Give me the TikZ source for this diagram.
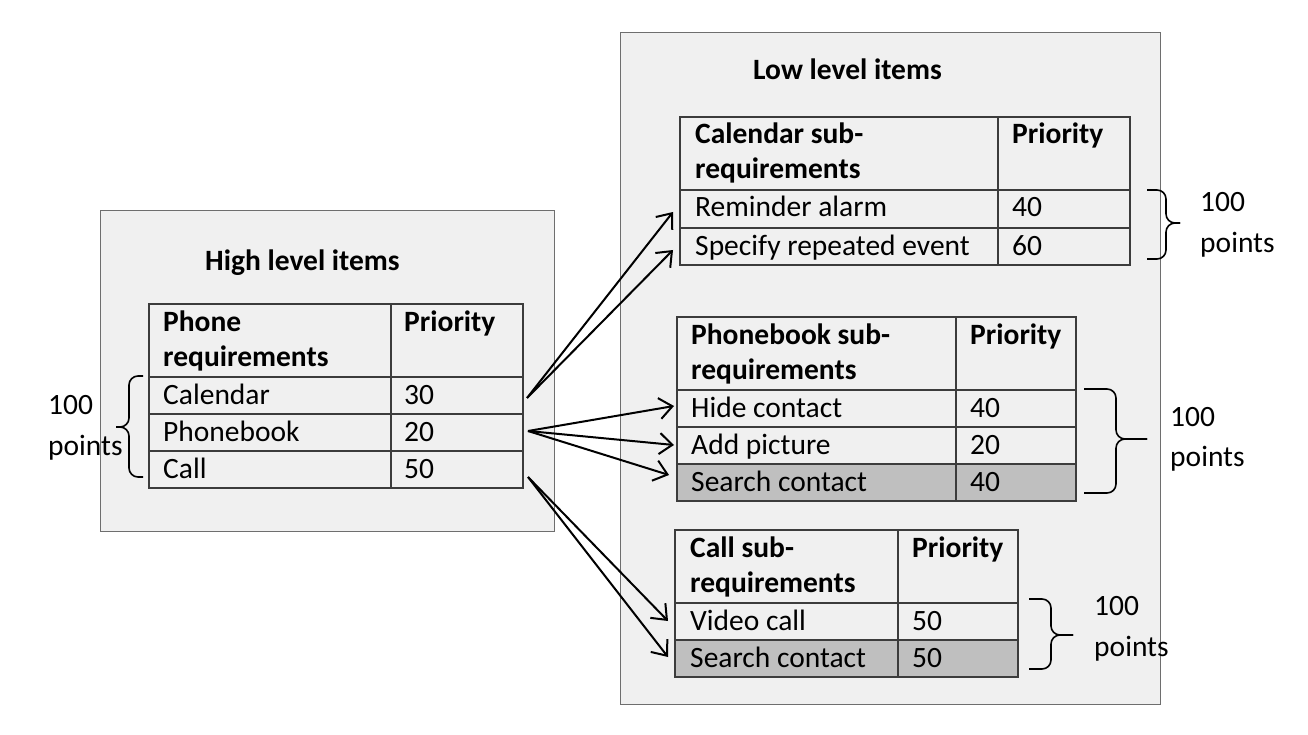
\documentclass[tikz,border=0pt]{standalone}
\usepackage{fontspec}
\setmainfont{Carlito}
\usetikzlibrary{arrows.meta}
\definecolor{bgc}{HTML}{F0F0F0}
\definecolor{tabc}{HTML}{3C3C3C}
\definecolor{outc}{HTML}{6E6E6E}
\definecolor{shc}{HTML}{BFBFBF}
\newcommand\fs{\fontsize{29.5}{35}\selectfont}
\newcommand\bracepath[6]{\draw[br] (#1,#4) -- (#2,#4) -- (#2,#5) -- (#3,#5); \draw[br] (#3,#5) -- (#2,#5) -- (#2,#6) -- (#1,#6);}
\tikzset{
  outerbox/.style={draw=outc, fill=bgc, line width=1.2pt, inner sep=0pt, anchor=north west},
  cell/.style={draw=tabc, fill=bgc, line width=1.6pt, inner sep=0pt, anchor=north west},
  shcell/.style={cell, fill=shc},
  txt/.style={inner sep=0pt, anchor=base west, font=\fs},
  hd/.style={txt, font=\fs\bfseries},
  arr/.style={line width=2pt, -{Straight Barb[length=13pt,width=21pt]}},
  br/.style={line width=1.6pt, rounded corners=9pt}
}
\begin{document}
\begin{tikzpicture}[x=1pt,y=-1pt]
\useasboundingbox (0,0) rectangle (1308,735);
% outer boxes
\node[outerbox, minimum width=454, minimum height=321] (hbox) at (100,210) {};
\node[outerbox, minimum width=540, minimum height=672] (lbox) at (620,32) {};
\node[hd] (htitle) at (205,270) {High level items};
\node[hd] (ltitle) at (753,80) {Low level items};
% left table
\node[cell, minimum width=242, minimum height=73] (Lh1) at (148,303) {};
\node[cell, minimum width=132, minimum height=73] (Lh2) at (390,303) {};
\node[cell, minimum width=242, minimum height=37] (Lr1a) at (148,376) {};
\node[cell, minimum width=132, minimum height=37] (Lr1b) at (390,376) {};
\node[cell, minimum width=242, minimum height=37] (Lr2a) at (148,413) {};
\node[cell, minimum width=132, minimum height=37] (Lr2b) at (390,413) {};
\node[cell, minimum width=242, minimum height=37] (Lr3a) at (148,450) {};
\node[cell, minimum width=132, minimum height=37] (Lr3b) at (390,450) {};
\node[hd] (Lt1) at (163,331) {Phone};
\node[hd] (Lt2) at (163,366) {requirements};
\node[hd] (Lt3) at (404,331) {Priority};
\node[txt] (Lt4) at (163,404) {Calendar};
\node[txt] (Lt5) at (404,404) {30};
\node[txt] (Lt6) at (163,441) {Phonebook};
\node[txt] (Lt7) at (404,441) {20};
\node[txt] (Lt8) at (163,478) {Call};
\node[txt] (Lt9) at (404,478) {50};
% calendar table
\node[cell, minimum width=318, minimum height=73] (Ch1) at (679,116) {};
\node[cell, minimum width=132, minimum height=73] (Ch2) at (997,116) {};
\node[cell, minimum width=318, minimum height=38] (Cr1a) at (679,189) {};
\node[cell, minimum width=132, minimum height=38] (Cr1b) at (997,189) {};
\node[cell, minimum width=318, minimum height=37] (Cr2a) at (679,227) {};
\node[cell, minimum width=132, minimum height=37] (Cr2b) at (997,227) {};
\node[hd] (Ct1) at (695,144) {Calendar sub-};
\node[hd] (Ct2) at (695,179) {requirements};
\node[hd] (Ct3) at (1012,144) {Priority};
\node[txt] (Ct4) at (695,217) {Reminder alarm};
\node[txt] (Ct5) at (1012,217) {40};
\node[txt] (Ct6) at (695,255) {Specify repeated event};
\node[txt] (Ct7) at (1012,255) {60};
% phonebook table
\node[cell, minimum width=279, minimum height=73] (Ph1) at (676,316) {};
\node[cell, minimum width=120, minimum height=73] (Ph2) at (955,316) {};
\node[cell, minimum width=279, minimum height=37] (Pr1a) at (676,389) {};
\node[cell, minimum width=120, minimum height=37] (Pr1b) at (955,389) {};
\node[cell, minimum width=279, minimum height=37] (Pr2a) at (676,426) {};
\node[cell, minimum width=120, minimum height=37] (Pr2b) at (955,426) {};
\node[shcell, minimum width=279, minimum height=37] (Pr3a) at (676,463) {};
\node[shcell, minimum width=120, minimum height=37] (Pr3b) at (955,463) {};
\node[hd] (Pt1) at (691,344) {Phonebook sub-};
\node[hd] (Pt2) at (691,379) {requirements};
\node[hd] (Pt3) at (970,344) {Priority};
\node[txt] (Pt4) at (691,417) {Hide contact};
\node[txt] (Pt5) at (970,417) {40};
\node[txt] (Pt6) at (691,454) {Add picture};
\node[txt] (Pt7) at (970,454) {20};
\node[txt] (Pt8) at (691,491) {Search contact};
\node[txt] (Pt9) at (970,491) {40};
% call table
\node[cell, minimum width=223, minimum height=73] (Kh1) at (674,529) {};
\node[cell, minimum width=120, minimum height=73] (Kh2) at (897,529) {};
\node[cell, minimum width=223, minimum height=37] (Kr1a) at (674,602) {};
\node[cell, minimum width=120, minimum height=37] (Kr1b) at (897,602) {};
\node[shcell, minimum width=223, minimum height=37] (Kr2a) at (674,639) {};
\node[shcell, minimum width=120, minimum height=37] (Kr2b) at (897,639) {};
\node[hd] (Kt1) at (690,557) {Call sub-};
\node[hd] (Kt2) at (690,592) {requirements};
\node[hd] (Kt3) at (912,557) {Priority};
\node[txt] (Kt4) at (690,630) {Video call};
\node[txt] (Kt5) at (912,630) {50};
\node[txt] (Kt6) at (690,667) {Search contact};
\node[txt] (Kt7) at (912,667) {50};
% arrows
\coordinate (sCal) at (527,398);
\coordinate (sPho) at (528,431);
\coordinate (sCall) at (528,477);
\coordinate (eRem) at (673,212);
\coordinate (eSpe) at (673,250);
\coordinate (eHid) at (674,406);
\coordinate (eAdd) at (674,445);
\coordinate (eSea) at (669,475);
\coordinate (eVid) at (668,621);
\coordinate (eSea2) at (668,657);
\draw[arr] (sCal) -- (eRem);
\draw[arr] (sCal) -- (eSpe);
\draw[arr] (sPho) -- (eHid);
\draw[arr] (sPho) -- (eAdd);
\draw[arr] (sPho) -- (eSea);
\draw[arr] (sCall) -- (eVid);
\draw[arr] (sCall) -- (eSea2);
% braces
\bracepath{143}{129}{116}{376}{427}{477}
\bracepath{1147}{1166}{1180}{190}{223}{259}
\bracepath{1084}{1116}{1147}{389}{439}{493}
\bracepath{1029}{1051}{1073}{599}{635}{669}
% brace labels
\node[txt] (b1a) at (48,414) {100};
\node[txt] (b1b) at (48,455) {points};
\node[txt] (b2a) at (1200,212) {100};
\node[txt] (b2b) at (1200,253) {points};
\node[txt] (b3a) at (1170,426) {100};
\node[txt] (b3b) at (1170,466) {points};
\node[txt] (b4a) at (1094,615) {100};
\node[txt] (b4b) at (1094,656) {points};
\end{tikzpicture}
\end{document}
